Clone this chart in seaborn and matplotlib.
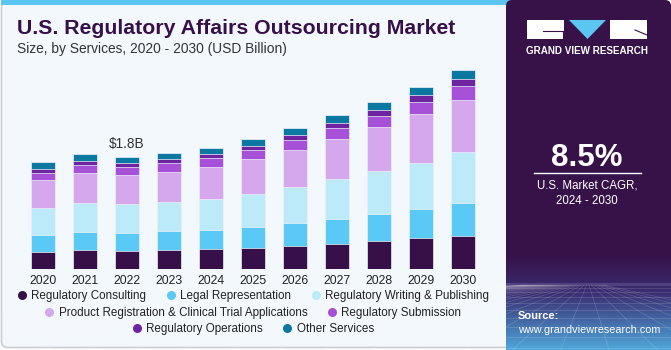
import numpy as np
import pandas as pd
import matplotlib
matplotlib.use("Agg")
import matplotlib.pyplot as plt
import seaborn as sns
from matplotlib.patches import FancyBboxPatch, Rectangle, Polygon
from matplotlib.lines import Line2D

# ---------------- data ----------------
years = ["2020", "2021", "2022", "2023", "2024", "2025", "2026", "2027", "2028", "2029", "2030"]
consulting   = [0.278, 0.299, 0.294, 0.304, 0.320, 0.342, 0.369, 0.406, 0.449, 0.491, 0.529]
legal        = [0.272, 0.294, 0.283, 0.299, 0.310, 0.336, 0.369, 0.401, 0.438, 0.470, 0.529]
writing      = [0.422, 0.465, 0.459, 0.475, 0.497, 0.529, 0.582, 0.630, 0.678, 0.742, 0.812]
product_reg  = [0.449, 0.486, 0.470, 0.481, 0.513, 0.550, 0.593, 0.641, 0.710, 0.774, 0.844]
submission   = [0.123, 0.118, 0.134, 0.134, 0.134, 0.144, 0.150, 0.176, 0.182, 0.192, 0.214]
operations   = [0.064, 0.069, 0.053, 0.064, 0.064, 0.069, 0.080, 0.085, 0.085, 0.112, 0.118]
other        = [0.101, 0.112, 0.107, 0.107, 0.107, 0.118, 0.123, 0.128, 0.134, 0.139, 0.150]

series_names = ["Regulatory Consulting", "Legal Representation", "Regulatory Writing & Publishing",
                "Product Registration & Clinical Trial Applications", "Regulatory Submission",
                "Regulatory Operations", "Other Services"]
series_vals = [consulting, legal, writing, product_reg, submission, operations, other]
colors = ["#37104A", "#5BC9F5", "#BDEAF9", "#D5A7EC", "#A651D8", "#6E23A0", "#0A78A0"]

annot_year = "2022"
annot_text = "$1.8B"

title = "U.S. Regulatory Affairs Outsourcing Market"
subtitle = "Size, by Services, 2020 - 2030 (USD Billion)"

# ---------------- figure ----------------
W, H = 671, 350
fig = plt.figure(figsize=(W / 100, H / 100), dpi=100)
plt.rcParams["font.family"] = ["Liberation Sans", "DejaVu Sans"]

bg = fig.add_axes([0, 0, 1, 1])
bg.set_xlim(0, W)
bg.set_ylim(H, 0)
bg.axis("off")

# left panel
bg.add_patch(FancyBboxPatch((1.5, 1.5), 520, H - 4, boxstyle="round,pad=0,rounding_size=6",
                            fc="#F3F8FC", ec="#C9CDD1", lw=1.2, zorder=0))
bg.add_patch(Rectangle((1, 0), 520, 5, fc="#5CC6F2", ec="none", zorder=1))

# right panel
bg.add_patch(FancyBboxPatch((506, 0), 165, H, boxstyle="round,pad=0,rounding_size=6",
                            fc="#371249", ec="none", zorder=2))
# gradient at bottom of right panel
grad = np.linspace(0, 1, 100)[:, None]
c0 = np.array([0x37, 0x12, 0x49]) / 255
c1 = np.array([0x3A, 0x2E, 0x72]) / 255
c2 = np.array([0x4F, 0xA6, 0xDA]) / 255
img = np.zeros((100, 1, 3))
for i, g in enumerate(grad[:, 0]):
    if g < 0.4:
        t = g / 0.4
        img[i, 0] = c0 * (1 - t) + c1 * t
    else:
        t = (g - 0.4) / 0.6
        img[i, 0] = c1 * (1 - t) + c2 * t
bg.imshow(img, extent=(506, 671, 350, 255), aspect="auto", zorder=3)
# perspective grid
vx, vy = 588, 270
for k in np.linspace(-700, 900, 34):
    bg.plot([vx + (k - vx) * 0.05, k], [285, 350], color="white", alpha=0.18, lw=0.5, zorder=4)
for yy in [285, 288, 292, 297, 303, 310, 318, 327, 337, 348]:
    bg.plot([506, 671], [yy, yy], color="white", alpha=0.18, lw=0.5, zorder=4)
bg.add_patch(Rectangle((506, 283), 165, 2, fc="#6A5A9A", ec="none", alpha=0.5, zorder=4))

# logo
bg.add_patch(Rectangle((527, 20), 37, 19, fc="white", ec="none", zorder=5))
bg.add_patch(Polygon([[569, 20], [606, 20], [587.5, 39]], fc="#5CC6F2", ec="none", zorder=5))
bg.add_patch(Rectangle((610, 20), 37, 19, fc="white", ec="none", zorder=5))
bg.plot([543, 563], [31, 31], color="#371249", lw=0.8, zorder=6)
bg.plot([563, 563], [31, 39], color="#371249", lw=0.8, zorder=6)
bg.plot([635, 647], [30, 35], color="#371249", lw=0.8, zorder=6)
bg.text(587, 51, "GRAND VIEW RESEARCH", color="white", fontsize=7.1, fontweight="bold",
        ha="center", va="center", zorder=6)

bg.text(587, 158, "8.5%", color="white", fontsize=22.5, fontweight="bold", ha="center", va="center", zorder=6)
bg.plot([534, 641], [173, 173], color="white", lw=1, zorder=6)
bg.text(587, 186, "U.S. Market CAGR,", color="white", fontsize=8.3, ha="center", va="center", zorder=6)
bg.text(587, 201, "2024 - 2030", color="white", fontsize=8.3, ha="center", va="center", zorder=6)
bg.text(518, 316, "Source:", color="white", fontsize=8, fontweight="bold", ha="left", va="center", zorder=6)
bg.text(518, 330, "www.grandviewresearch.com", color="white", fontsize=7.8, ha="left", va="center", zorder=6)

# titles
bg.text(17, 28, title, color="#37104A", fontsize=15.3, fontweight="bold", ha="left", va="center", zorder=6)
bg.text(17, 49, subtitle, color="#333333", fontsize=9.95, ha="left", va="center", zorder=6)

# ---------------- chart ----------------
ax_left, ax_right = 22, 484
ax_top, ax_bottom = 60, 269
ax = fig.add_axes([ax_left / W, 1 - ax_bottom / H, (ax_right - ax_left) / W, (ax_bottom - ax_top) / H])
ax.set_facecolor("none")

df = pd.DataFrame({"year": years})
cum = np.zeros(len(years))
cums = []
for v in series_vals:
    cum = cum + np.array(v)
    cums.append(cum.copy())

for i in range(len(series_vals) - 1, -1, -1):
    df["val"] = cums[i]
    sns.barplot(data=df, x="year", y="val", order=years, color=colors[i], width=0.57,
                saturation=1, ax=ax, edgecolor="#EEF3F8", linewidth=0.5, errorbar=None)

ax.set_xlim(-0.5, len(years) - 0.5)
ax.set_ylim(0, (ax_bottom - ax_top) / 62.4)
ax.set_xlabel("")
ax.set_ylabel("")
ax.set_yticks([])
for s in ax.spines.values():
    s.set_visible(False)
ax.tick_params(axis="x", length=0, pad=4, labelsize=8.8, labelcolor="#222222")

idx = years.index(annot_year)
ax.text(idx, cums[-1][idx] + 0.09, annot_text, ha="center", va="bottom", fontsize=9.8, color="#333333")

# ---------------- legend ----------------
rows = [[0, 1, 2], [3, 4], [5, 6]]
row_y = [296, 313, 329]
for r, yy in zip(rows, row_y):
    handles = [Line2D([], [], marker="o", ls="none", markersize=6.5, markerfacecolor=colors[i],
                      markeredgecolor="none") for i in r]
    labels = [series_names[i] for i in r]
    fig.legend(handles, labels, loc="center", bbox_to_anchor=(253 / W, 1 - yy / H), ncol=len(r),
               frameon=False, fontsize=8.4, handlelength=0.8, handletextpad=0.4,
               columnspacing=1.7, borderpad=0, labelcolor="#222222")

fig.savefig("out.png", dpi=100)
